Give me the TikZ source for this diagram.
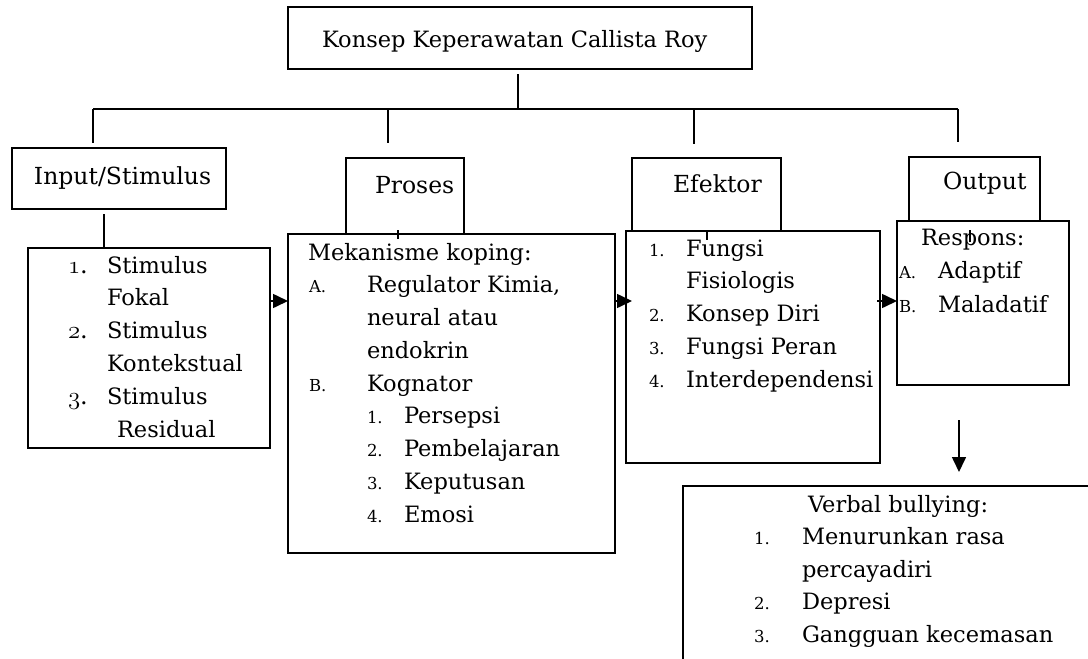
\documentclass[tikz,border=0pt]{standalone}
\usepackage{fontspec}
\setmainfont{DejaVu Serif}
\usetikzlibrary{arrows.meta,calc}
\newcommand{\lbl}[2]{\makebox[#1pt][l]{\fontsize{16.5}{16.5}\selectfont #2}}
\newcommand{\osn}[2]{\makebox[#1pt][l]{\fontsize{24}{24}\selectfont$\mathnormal{#2}$.}}
\begin{document}
\begin{tikzpicture}[x=1pt,y=-1pt,
  box/.style={draw, line width=1.6pt, inner sep=0pt, outer sep=0pt, anchor=north west},
  txt/.style={inner sep=0pt, outer sep=0pt, anchor=base west, font=\fontsize{23.5}{33}\selectfont},
  conn/.style={line width=1.6pt},
  tick/.style={line width=1.1pt},
  arr/.style={line width=1.6pt, -{Triangle[length=15pt,width=14pt]}}]
\useasboundingbox (0,0) rectangle (1088,659);
\clip (0,0) rectangle (1088,659);

% boxes
\node[box, minimum width=464pt, minimum height=62pt] (title) at (288,7) {};
\node[box, minimum width=214pt, minimum height=61pt] (inputbox) at (12,148) {};
\node[box, minimum width=242pt, minimum height=200pt] (stimbox) at (28,248) {};
\node[box, minimum width=118pt, minimum height=76pt] (prosbox) at (346,158) {};
\node[box, minimum width=327pt, minimum height=319pt] (mekbox) at (288,234) {};
\node[box, minimum width=149pt, minimum height=73pt] (effhead) at (632,158) {};
\node[box, minimum width=254pt, minimum height=232pt] (effbox) at (626,231) {};
\node[box, minimum width=131pt, minimum height=64pt] (outbox) at (909,157) {};
\node[box, minimum width=172pt, minimum height=164pt] (respbox) at (897,221) {};
\node[box, minimum width=420pt, minimum height=190pt] (verbbox) at (683,486) {};

% texts
\node[txt, font=\fontsize{22.5}{30}\selectfont] (titletxt) at (322,47) {Konsep Keperawatan Callista Roy};
\node[txt] (inputtxt) at (34,184) {Input/Stimulus};
\node[txt] (prostxt) at (375,193) {Proses};
\node[txt] (efftxt) at (673,192) {Efektor};
\node[txt] (outtxt) at (943,189) {Output};

\node[txt, font=\fontsize{22.5}{32.8}\selectfont] (stimtxt) at (68,273) {\begin{tabular}[t]{@{}l@{}}
\osn{39}{1}Stimulus\\
\hspace{39pt}Fokal\\
\osn{39}{2}Stimulus\\
\hspace{39pt}Kontekstual\\
\osn{39}{3}Stimulus\\
\hspace{49pt}Residual
\end{tabular}};

\node[txt, font=\fontsize{22.5}{32.75}\selectfont] (mektxt) at (308,260) {\begin{tabular}[t]{@{}l@{}}
Mekanisme koping:\\
\hspace{1pt}\lbl{58}{A.}Regulator Kimia,\\
\hspace{59pt}neural atau\\
\hspace{59pt}endokrin\\
\hspace{1pt}\lbl{58}{B.}Kognator\\
\hspace{59pt}\lbl{37}{1.}Persepsi\\
\hspace{59pt}\lbl{37}{2.}Pembelajaran\\
\hspace{59pt}\lbl{37}{3.}Keputusan\\
\hspace{59pt}\lbl{37}{4.}Emosi
\end{tabular}};

\node[txt, font=\fontsize{22.5}{32.75}\selectfont] (efflist) at (649,256) {\begin{tabular}[t]{@{}l@{}}
\lbl{37}{1.}Fungsi\\
\hspace{37pt}Fisiologis\\
\lbl{37}{2.}Konsep Diri\\
\lbl{37}{3.}Fungsi Peran\\
\lbl{37}{4.}Interdependensi
\end{tabular}};

\node[txt, font=\fontsize{22.5}{33.5}\selectfont] (resptxt) at (899,245) {\begin{tabular}[t]{@{}l@{}}
\hspace{22pt}Respons:\\
\lbl{39}{A.}Adaptif\\
\lbl{39}{B.}Maladatif
\end{tabular}};

\node[txt, font=\fontsize{22.5}{32.5}\selectfont] (verbtxt) at (754,512) {\begin{tabular}[t]{@{}l@{}}
\hspace{54pt}Verbal bullying:\\
\lbl{48}{1.}Menurunkan rasa\\
\hspace{48pt}percayadiri\\
\lbl{48}{2.}Depresi\\
\lbl{48}{3.}Gangguan kecemasan
\end{tabular}};

% bus connectors
\coordinate (b1) at (93,109);
\coordinate (b2) at (388,109);
\coordinate (b3) at (694,109);
\coordinate (b4) at (958,109);
\coordinate (bt) at (518,109);
\draw[conn] ($(title.south west)+(230,5)$) -- (bt);
\draw[conn] (b1) -- (b4);
\draw[conn] (b1) -- ($(inputbox.north west)+(81,-5)$);
\draw[conn] (b2) -- ($(prosbox.north west)+(42,-15)$);
\draw[conn] (b3) -- ($(effhead.north west)+(62,-14)$);
\draw[conn] (b4) -- ($(outbox.north west)+(49,-15)$);
\draw[conn] ($(inputbox.south west)+(92,5)$) -- ($(stimbox.north west)+(76,0)$);

% small ticks
\draw[tick] ($(mekbox.north west)+(110,-4)$) -- ++(0,9);
\draw[tick] ($(effbox.north west)+(81,0)$) -- ++(0,9);
\draw[tick] ($(respbox.north west)+(73,9)$) -- ++(0,12);

% arrows
\draw[arr] ($(stimbox.north east)+(0,53)$) -- ($(mekbox.north west)+(0,67)$);
\draw[arr] ($(mekbox.north east)+(0,67)$) -- ($(effbox.north west)+(6,70)$);
\draw[arr] ($(effbox.north east)+(-3,70)$) -- ($(respbox.north west)+(0,80)$);
\draw[arr] ($(respbox.south west)+(62,35)$) -- ($(verbbox.north west)+(276,-14)$);
\end{tikzpicture}
\end{document}
